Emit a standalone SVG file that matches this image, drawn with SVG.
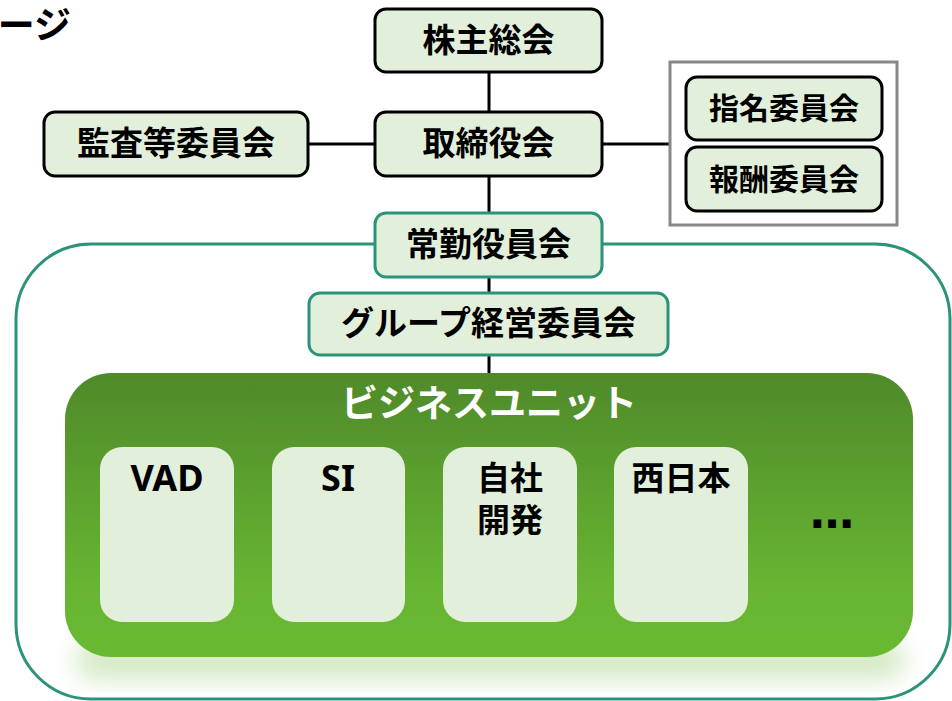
<svg xmlns="http://www.w3.org/2000/svg" width="952" height="701" viewBox="0 0 952 701">
<defs>
<style>
.jp{font-family:"Noto Sans CJK JP","Noto Sans",sans-serif;font-weight:bold;fill:#000;text-anchor:middle}
.lt{font-family:"Noto Sans","Noto Sans CJK JP",sans-serif;font-weight:bold;fill:#000;text-anchor:middle}
.nb{fill:#e2efda;stroke:#000;stroke-width:3}
.nt{fill:#e2efda;stroke:#2a937a;stroke-width:3}
.bu{fill:#e2efda}
.ln{stroke:#000;stroke-width:3;fill:none}
</style>
<linearGradient id="g" x1="0" y1="0" x2="0" y2="1">
<stop offset="0" stop-color="#4f8a2a"/>
<stop offset="0.75" stop-color="#67b532"/>
<stop offset="1" stop-color="#6ab933"/>
</linearGradient>
<filter id="blur" x="-10%" y="-30%" width="120%" height="160%"><feGaussianBlur stdDeviation="12"/></filter>
</defs>
<rect width="952" height="701" fill="#fff"/>
<text class="jp" x="71" y="39" font-size="37" style="text-anchor:end">ージ</text>
<g id="outer">
<rect x="16" y="244" width="934" height="455" rx="75" fill="none" stroke="#2a937a" stroke-width="3"/>
</g>
<g id="connectors">
<line class="ln" x1="489" y1="72" x2="489" y2="112"/>
<line class="ln" x1="489" y1="176" x2="489" y2="213"/>
<line class="ln" x1="489" y1="277" x2="489" y2="293"/>
<line class="ln" x1="489" y1="355" x2="489" y2="374"/>
<line class="ln" x1="308" y1="144" x2="375" y2="144"/>
<line class="ln" x1="602" y1="144" x2="670" y2="144"/>
</g>
<g id="n-kabunushi">
<rect class="nb" x="375" y="9" width="227" height="63" rx="11"/>
<text class="jp" x="488.5" y="52" font-size="33">株主総会</text>
</g>
<g id="n-torishimari">
<rect class="nb" x="375" y="112" width="227" height="64" rx="11"/>
<text class="jp" x="488.5" y="155" font-size="33">取締役会</text>
</g>
<g id="n-kansa">
<rect class="nb" x="44" y="112" width="264" height="64" rx="11"/>
<text class="jp" x="176" y="155" font-size="33">監査等委員会</text>
</g>
<g id="n-committees">
<rect x="670" y="62" width="227" height="163" fill="#fff" stroke="#888" stroke-width="3"/>
</g>
<g id="n-shimei">
<rect class="nb" x="686" y="77" width="196" height="63" rx="11"/>
<text class="jp" x="784" y="119" font-size="30">指名委員会</text>
</g>
<g id="n-hoshu">
<rect class="nb" x="686" y="147" width="196" height="64" rx="11"/>
<text class="jp" x="784" y="190" font-size="30">報酬委員会</text>
</g>
<g id="n-jokin">
<rect class="nt" x="375" y="213" width="227" height="64" rx="11"/>
<text class="jp" x="488.5" y="256" font-size="33">常勤役員会</text>
</g>
<g id="n-group">
<rect class="nt" x="309" y="293" width="359" height="62" rx="11"/>
<text class="jp" x="488.5" y="335" font-size="33">グループ経営委員会</text>
</g>
<g id="n-bu">
<rect x="75" y="640" width="830" height="40" rx="20" fill="#b9dca0" opacity="0.6" filter="url(#blur)"/>
<rect x="65" y="373" width="848" height="284" rx="46" fill="url(#g)"/>
<text class="jp" x="489" y="417" font-size="37" style="fill:#fff">ビジネスユニット</text>
</g>
<g id="n-vad">
<rect class="bu" x="100" y="447" width="134" height="175" rx="22"/>
<text class="lt" x="167" y="491" font-size="36">VAD</text>
</g>
<g id="n-si">
<rect class="bu" x="272" y="447" width="133" height="175" rx="22"/>
<text class="lt" x="338" y="491" font-size="36">SI</text>
</g>
<g id="n-jisha">
<rect class="bu" x="443" y="447" width="134" height="175" rx="22"/>
<text class="jp" font-size="33"><tspan x="510" y="490">自社</tspan><tspan x="510" y="532">開発</tspan></text>
</g>
<g id="n-nishi">
<rect class="bu" x="614" y="447" width="134" height="175" rx="22"/>
<text class="jp" x="681" y="490" font-size="33">西日本</text>
</g>
<text x="832" y="528" font-size="44" font-family="DejaVu Sans" font-weight="bold" text-anchor="middle">…</text>
</svg>
